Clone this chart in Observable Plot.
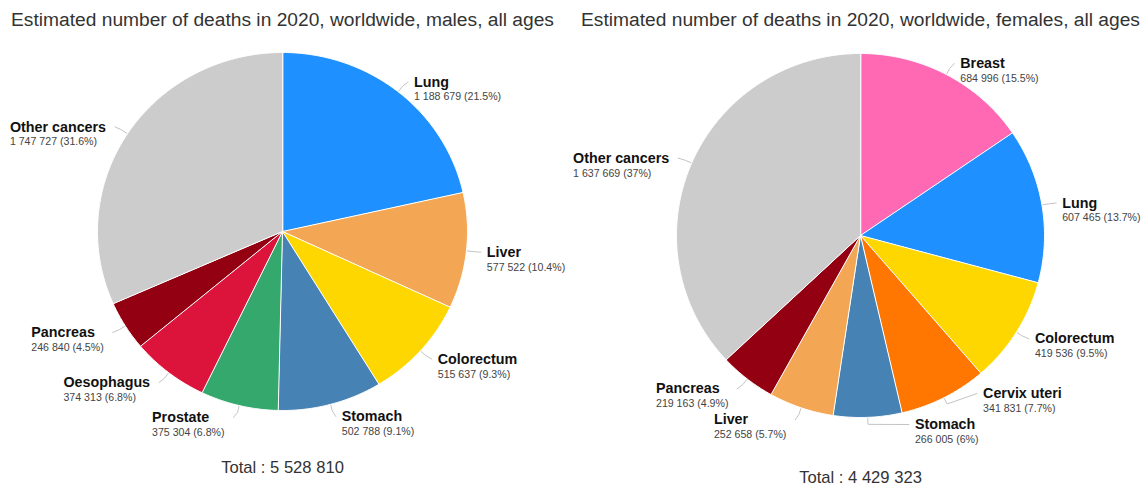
<!DOCTYPE html>
<html>
<head>
<meta charset="utf-8">
<script src="https://cdn.jsdelivr.net/npm/d3@7"></script>
<script src="https://cdn.jsdelivr.net/npm/@observablehq/plot@0.6"></script>
<style>
  body { margin: 0; background: #fff; }
  #chart svg { display: block; }
</style>
</head>
<body>
<div id="chart"></div>
<script>
// Estimated cancer deaths in 2020, worldwide, all ages (GLOBOCAN), by site
const maleSites = ["Lung", "Liver", "Colorectum", "Stomach", "Prostate", "Oesophagus", "Pancreas", "Other cancers"];
const maleDeaths = [1188679, 577522, 515637, 502788, 375304, 374313, 246840, 1747727];

const femaleSites = ["Breast", "Lung", "Colorectum", "Cervix uteri", "Stomach", "Liver", "Pancreas", "Other cancers"];
const femaleDeaths = [684996, 607465, 419536, 341831, 266005, 252658, 219163, 1637669];

const chartTitles = [
  "Estimated number of deaths in 2020, worldwide, males, all ages",
  "Estimated number of deaths in 2020, worldwide, females, all ages"
];

// one colour per cancer site, shared by both pies
const siteDomain = ["Lung", "Liver", "Colorectum", "Stomach", "Prostate", "Oesophagus", "Pancreas", "Other cancers", "Breast", "Cervix uteri"];
const siteRange  = ["#1e90ff", "#f3a654", "#ffd700", "#4682b4", "#35a86e", "#dc143c", "#930011", "#cccccc", "#ff69b4", "#ff7700"];

const W = 1144, H = 488;
const FONT = "'Liberation Sans', Arial, Helvetica, sans-serif";
const NAME_SIZE = 14.3, VALUE_SIZE = 10.6;

// geometry of the two pies
const layouts = [
  {cx: 282, cy: 231, rx: 185, ry: 179, titleY: 19, totalY: 467},
  {cx: 860, cy: 235, rx: 184, ry: 182, titleY: 19, totalY: 477}
];

const LABEL_OFFSET = 12.5;   // distance of the label anchor outside the rim
const LINE_H = 31;           // minimum vertical spacing between labels

const fmtInt = d3.formatLocale({decimal: ".", thousands: " ", grouping: [3], currency: ["", ""]}).format(",d");
const fmtPct = p => `${+p.toFixed(1)}%`;

const ctx = document.createElement("canvas").getContext("2d");
function textWidth(str, font) { ctx.font = font; return ctx.measureText(str).width; }

const slicePts = [], connectorPts = [], labels = [], titleRows = [], totalRows = [];

[[maleSites, maleDeaths], [femaleSites, femaleDeaths]].forEach(([sites, deaths], k) => {
  const L = layouts[k];
  const rows = sites.map((site, i) => ({site, deaths: deaths[i]}));
  const total = d3.sum(deaths);
  const arcs = d3.pie().sort(null).value(d => d.deaths)(rows);
  const pt = (a, ox, oy) => [L.cx + ox * Math.sin(a), L.cy - oy * Math.cos(a)];

  titleRows.push({x: L.cx, y: L.titleY, text: chartTitles[k]});
  totalRows.push({x: L.cx, y: L.totalY, total});

  // slice outlines
  arcs.forEach((a, i) => {
    const key = `${k}-${i}`;
    slicePts.push({key, site: a.data.site, x: L.cx, y: L.cy});
    const n = Math.max(2, Math.ceil((a.endAngle - a.startAngle) / (Math.PI / 360)));
    for (let j = 0; j <= n; ++j) {
      const t = a.startAngle + (a.endAngle - a.startAngle) * j / n;
      const [x, y] = pt(t, L.rx, L.ry);
      slicePts.push({key, site: a.data.site, x, y});
    }
  });

  // labels: target position along the mid angle, then spread vertically per side
  const Rx = L.rx + LABEL_OFFSET, Ry = L.ry + LABEL_OFFSET;
  const items = arcs.map((a, i) => {
    const mid = (a.startAngle + a.endAngle) / 2;
    return {
      key: `${k}-${i}`, site: a.data.site, mid,
      side: mid < Math.PI ? 1 : -1,
      target: L.cy - Ry * Math.cos(mid),
      value: `${fmtInt(a.data.deaths)} (${fmtPct(a.data.deaths / total * 100)})`
    };
  });
  const minY = L.cy - Ry, maxY = L.cy + L.ry + 7;
  for (const side of [1, -1]) {
    const list = items.filter(d => d.side === side).sort((a, b) => a.target - b.target);
    let groups = list.map(d => ({members: [d]}));
    const place = g => {
      const n = g.members.length;
      let top = d3.mean(g.members, d => d.target) - (n - 1) * LINE_H / 2;
      if (top + (n - 1) * LINE_H > maxY) top = maxY - (n - 1) * LINE_H;
      if (top < minY) top = minY;
      g.top = top;
      g.bottom = top + (n - 1) * LINE_H;
    };
    let merged = true;
    while (merged) {
      merged = false;
      groups.forEach(place);
      for (let i = 1; i < groups.length; ++i) {
        if (groups[i - 1].bottom + LINE_H > groups[i].top) {
          groups[i - 1].members = groups[i - 1].members.concat(groups[i].members);
          groups.splice(i, 1);
          merged = true;
          break;
        }
      }
    }
    groups.forEach(g => {
      place(g);
      g.members.forEach((d, i) => { d.y = g.top + i * LINE_H; });
    });
  }

  items.forEach(d => {
    const u = Math.max(-1, Math.min(1, (d.y - L.cy) / Ry));
    const ax = L.cx + d.side * Rx * Math.sqrt(1 - u * u);
    const w = Math.max(textWidth(d.site, `bold ${NAME_SIZE}px ${FONT}`), textWidth(d.value, `${VALUE_SIZE}px ${FONT}`));
    const tx = d.side > 0 ? ax + 8 : ax - 11 - w;
    labels.push({site: d.site, value: d.value, tx, y: d.y});
    const [x0, y0] = pt(d.mid, L.rx + 1, L.ry + 1);
    const [x1, y1] = pt(d.mid, L.rx + 7, L.ry + 7);
    connectorPts.push({key: d.key, x: x0, y: y0});
    connectorPts.push({key: d.key, x: x1, y: y1});
    connectorPts.push({key: d.key, x: ax + d.side * 2, y: d.y});
  });
});

const chart = Plot.plot({
  width: W,
  height: H,
  margin: 0,
  x: {domain: [0, W], range: [0, W], axis: null},
  y: {domain: [0, H], range: [0, H], axis: null},
  color: {domain: siteDomain, range: siteRange},
  style: {fontFamily: FONT, background: "#fff", overflow: "visible"},
  marks: [
    Plot.line(slicePts, {x: "x", y: "y", z: "key", fill: "site", stroke: "#fff", strokeWidth: 1, curve: "linear-closed", strokeLinejoin: "round"}),
    Plot.line(connectorPts, {x: "x", y: "y", z: "key", stroke: "#c4c4c4", strokeWidth: 1}),
    Plot.text(labels, {x: "tx", y: "y", text: "site", textAnchor: "start", fontSize: NAME_SIZE, fontWeight: "bold", fill: "#111"}),
    Plot.text(labels, {x: "tx", y: d => d.y + 15, text: "value", textAnchor: "start", fontSize: VALUE_SIZE, fill: "#444"}),
    Plot.text(titleRows, {x: "x", y: "y", text: "text", fontSize: 19.2, fill: "#333"}),
    Plot.text(totalRows, {x: "x", y: "y", text: d => `Total : ${fmtInt(d.total)}`, fontSize: 16.6, fill: "#333"})
  ]
});

document.getElementById("chart").append(chart);
</script>
</body>
</html>
